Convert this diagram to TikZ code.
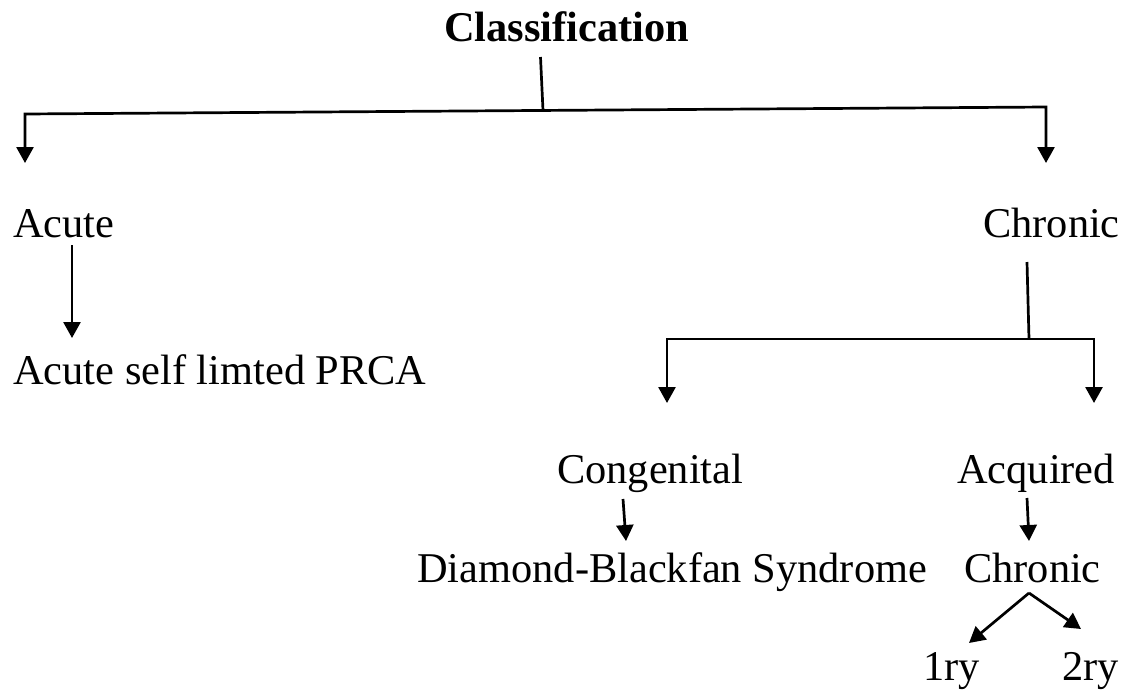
\documentclass[tikz,border=0pt]{standalone}
\usepackage{fontspec}
\setmainfont{Liberation Serif}
\usetikzlibrary{arrows.meta}
\tikzset{
  lbl/.style={anchor=base west, inner sep=0pt, font=\fontsize{42.4}{50}\selectfont},
  ln/.style={line width=2.7pt, line join=miter},
  tip/.tip={Triangle[width=17pt,length=16pt]},
  arr/.style={ln, -tip},
  arr2/.style={ln, tip-tip},
}
\begin{document}
\begin{tikzpicture}[x=1pt,y=-1pt]
\useasboundingbox (0,0) rectangle (1125,689);
% text nodes
\node[lbl, font=\fontsize{42.4}{50}\selectfont\bfseries] (cls) at (444,41) {Classification};
\node[lbl] (acute) at (13,237) {Acute};
\node[lbl] (chron) at (983,237) {Chronic};
\node[lbl] (asl) at (13,384) {Acute self limted PRCA};
\node[lbl] (cong) at (557,483) {Congenital};
\node[lbl] (acq) at (957,483) {Acquired};
\node[lbl] (dbs) at (417,582) {Diamond-Blackfan Syndrome};
\node[lbl] (chron2) at (964,582) {Chronic};
\node[lbl] (ry1) at (923,680) {1ry};
\node[lbl] (ry2) at (1062,680) {2ry};
% junction coordinates
\coordinate (c0) at (540.5,57);
\coordinate (c1) at (543,110.4);
\coordinate (jl) at (25,114);
\coordinate (jr) at (1046,107);
\coordinate (tl) at (25,163);
\coordinate (tr) at (1046,163);
\coordinate (a0) at (72,245);
\coordinate (a1) at (72,338);
\coordinate (h0) at (1027,262);
\coordinate (h1) at (1029,339);
\coordinate (kl) at (667,339);
\coordinate (kr) at (1094,339);
\coordinate (kl2) at (667,403);
\coordinate (kr2) at (1094,403);
\coordinate (g0) at (623,499);
\coordinate (g1) at (626,541);
\coordinate (q0) at (1027,498);
\coordinate (q1) at (1029,541);
\coordinate (r0) at (1029,593);
\coordinate (r1) at (969,643);
\coordinate (r2) at (1081,629);
% connectors
\draw[ln] (c0) -- (c1);
\draw[arr2] (tl) -- (jl) -- (jr) -- (tr);
\draw[arr] (a0) -- (a1);
\draw[ln] (h0) -- (h1);
\draw[arr2] (kl2) -- (kl) -- (kr) -- (kr2);
\draw[arr] (g0) -- (g1);
\draw[arr] (q0) -- (q1);
\draw[arr] (r0) -- (r1);
\draw[arr] (r0) -- (r2);
\end{tikzpicture}
\end{document}
